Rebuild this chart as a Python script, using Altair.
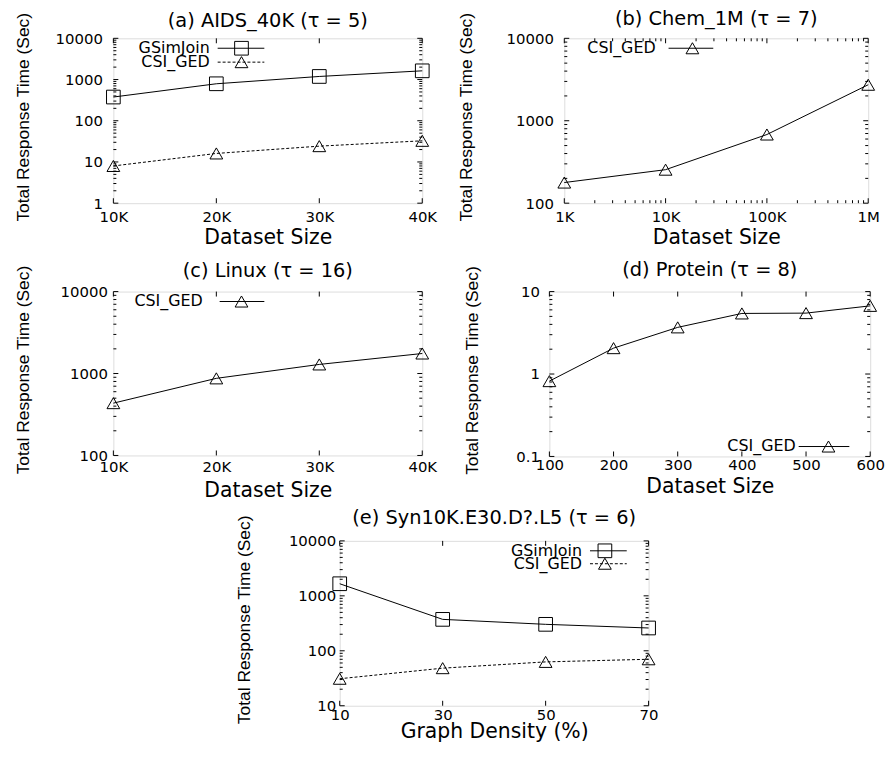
import json
import altair as alt
import pandas as pd

FONT = "DejaVu Sans"
YFONT = "Liberation Sans"

# ---------------- data ----------------
a_size = [10000, 20000, 30000, 40000]
a_gsim = [376, 789, 1187, 1627]
a_csi = [8.0, 16.1, 24.2, 32.6]
a_xticks = [10000, 20000, 30000, 40000]
a_xlabels = ["10K", "20K", "30K", "40K"]

b_size = [1000, 10000, 100000, 1000000]
b_csi = [178, 255, 681, 2733]
b_xticks = [1000, 10000, 100000, 1000000]
b_xlabels = ["1K", "10K", "100K", "1M"]

c_size = [10000, 20000, 30000, 40000]
c_csi = [435, 873, 1291, 1755]
c_xticks = [10000, 20000, 30000, 40000]
c_xlabels = ["10K", "20K", "30K", "40K"]

d_size = [100, 200, 300, 400, 500, 600]
d_csi = [0.82, 2.06, 3.68, 5.43, 5.48, 6.71]
d_xticks = [100, 200, 300, 400, 500, 600]
d_xlabels = ["100", "200", "300", "400", "500", "600"]

e_density = [10, 30, 50, 70]
e_gsim = [1660, 373, 303, 260]
e_csi = [31.0, 48.3, 62.8, 70.1]
e_xticks = [10, 30, 50, 70]
e_xlabels = ["10", "30", "50", "70"]

MAJOR = 5
MINOR = 3


def decades(lo_exp, hi_exp):
    return [10.0 ** k for k in range(lo_exp, hi_exp + 1)]


def minors(lo_exp, hi_exp):
    out = []
    for k in range(lo_exp, hi_exp):
        for m in range(2, 10):
            out.append(m * 10.0 ** k)
    return out


def ylabel(v):
    return ("%g" % v)


def lookup_expr(ticks, labels):
    return "%s[indexof(%s, datum.value)]" % (json.dumps(labels), json.dumps(ticks))


def panel(cfg):
    w, h = cfg["w"], cfg["h"]
    xs = alt.Scale(type=cfg["xtype"], domain=cfg["xdom"], nice=False, zero=False)
    ys = alt.Scale(type="log", domain=cfg["ydom"], nice=False)
    yt = cfg["yticks"]
    xaxis = alt.Axis(
        values=cfg["xticks"], labelExpr=lookup_expr(cfg["xticks"], cfg["xlabels"]),
        title=cfg["xtitle"], grid=False, ticks=False, tickSize=0, domain=False,
        labelFont=FONT, labelFontSize=15, labelColor="black",
        labelPadding=cfg["xlabpad"], labelBaseline="alphabetic", labelFlush=False,
        labelOverlap=False, labelAlign="center",
        titleFont=FONT, titleFontSize=20.5, titleFontWeight="normal", titleColor="black",
        titleY=cfg["xtitley"], titleBaseline="alphabetic",
    )
    yaxis = alt.Axis(
        values=yt, labelExpr=lookup_expr(yt, [ylabel(v) for v in yt]),
        title="Total Response Time (Sec)", grid=False, ticks=False, tickSize=0, domain=False,
        labelFont=FONT, labelFontSize=15, labelColor="black",
        labelPadding=cfg["ylabpad"], labelOverlap=False, labelFlush=False,
        labelBaseline="middle",
        titleFont=YFONT, titleFontSize=17.5, titleFontWeight="normal", titleColor="black",
        titleAngle=270, titleX=cfg["ytitlex"], titleY=h / 2 - 4,
        titleBaseline="middle", titleAlign="center",
    )
    X = lambda: alt.X("x:Q", scale=xs, axis=xaxis)
    Y = lambda: alt.Y("y:Q", scale=ys, axis=yaxis)

    lines, points = [], []
    for name, vals, shape, size, dash in cfg["series"]:
        df = pd.DataFrame({"x": cfg["x"], "y": vals, "series": name})
        lk = dict(color="black", strokeWidth=1)
        if dash:
            lk["strokeDash"] = dash
        lines.append(alt.Chart(df).mark_line(**lk).encode(x=X(), y=Y()))
        points.append(
            alt.Chart(df).mark_point(shape=shape, size=size, filled=False, color="black",
                                     strokeWidth=1, opacity=1).encode(x=X(), y=Y())
        )

    ticks = []
    ymaj = pd.DataFrame({"y": yt})
    ymin = pd.DataFrame({"y": cfg["yminor"]})
    for d, L in ((ymaj, MAJOR), (ymin, MINOR)):
        ticks.append(alt.Chart(d).mark_rule(color="black", strokeWidth=1).encode(
            y=Y(), x=alt.value(0), x2=alt.value(L)))
        ticks.append(alt.Chart(d).mark_rule(color="black", strokeWidth=1).encode(
            y=Y(), x=alt.value(w - L), x2=alt.value(w)))
    xsets = [(pd.DataFrame({"x": cfg["xticks"]}), MAJOR)]
    if cfg.get("xminor"):
        xsets.append((pd.DataFrame({"x": cfg["xminor"]}), MINOR))
    for d, L in xsets:
        ticks.append(alt.Chart(d).mark_rule(color="black", strokeWidth=1).encode(
            x=X(), y=alt.value(h - L), y2=alt.value(h)))
        ticks.append(alt.Chart(d).mark_rule(color="black", strokeWidth=1).encode(
            x=X(), y=alt.value(0), y2=alt.value(L)))

    legend = []
    lg = cfg["legend"]
    for i, (name, vals, shape, size, dash) in enumerate(cfg["series"]):
        ly = lg["y"][i]
        d = pd.DataFrame({"label": [name]})
        legend.append(alt.Chart(d).mark_text(align="right", baseline="middle", font=FONT,
                                             fontSize=16, color="black").encode(
            x=alt.value(lg["tx"]), y=alt.value(ly), text="label:N"))
        rk = dict(color="black", strokeWidth=1)
        if dash:
            rk["strokeDash"] = dash
        legend.append(alt.Chart(d).mark_rule(**rk).encode(
            x=alt.value(lg["l1"]), x2=alt.value(lg["l2"]), y=alt.value(ly)))
        legend.append(alt.Chart(d).mark_point(shape=shape, size=size, filled=False, color="black",
                                              strokeWidth=1, opacity=1).encode(
            x=alt.value(lg["m"]), y=alt.value(ly)))

    tdf = pd.DataFrame({"t": [cfg["title"]]})
    title = alt.Chart(tdf).mark_text(align="center", baseline="alphabetic", font=FONT,
                                     fontSize=19.5, color="black").encode(
        x=alt.value(w / 2), y=alt.value(-cfg["toff"]), text="t:N")

    return alt.layer(*ticks, *lines, *points, *legend, title).properties(width=w, height=h)


SQ = ("square", 190)
TR = ("triangle-up", 165)
DASH = [3, 2]

pa = panel(dict(
    title="(a) AIDS_40K (\u03c4 = 5)", w=311, h=166, xtype="linear", xdom=[10000, 40000],
    ydom=[1, 10000], yticks=decades(0, 4), yminor=minors(0, 4),
    x=a_size, xticks=a_xticks, xlabels=a_xlabels, xtitle="Dataset Size",
    xlabpad=18, xtitley=41, ylabpad=11, ytitlex=-90, toff=11,
    series=[("GSimJoin", a_gsim, SQ[0], SQ[1], None), ("CSI_GED", a_csi, TR[0], TR[1], DASH)],
    legend=dict(tx=97, l1=105, l2=152, m=129, y=[10, 24]),
))
pb = panel(dict(
    title="(b) Chem_1M (\u03c4 = 7)", w=306, h=166, xtype="log", xdom=[1000, 1000000],
    ydom=[100, 10000], yticks=decades(2, 4), yminor=minors(2, 4),
    x=b_size, xticks=b_xticks, xlabels=b_xlabels, xtitle="Dataset Size", xminor=minors(3, 6),
    xlabpad=18, xtitley=41, ylabpad=11, ytitlex=-98, toff=13,
    series=[("CSI_GED", b_csi, TR[0], TR[1], None)],
    legend=dict(tx=92, l1=105, l2=150, m=129, y=[10]),
))
pc = panel(dict(
    title="(c) Linux (\u03c4 = 16)", w=311, h=165, xtype="linear", xdom=[10000, 40000],
    ydom=[100, 10000], yticks=decades(2, 4), yminor=minors(2, 4),
    x=c_size, xticks=c_xticks, xlabels=c_xlabels, xtitle="Dataset Size",
    xlabpad=16, xtitley=41, ylabpad=6, ytitlex=-90, toff=15,
    series=[("CSI_GED", c_csi, TR[0], TR[1], None)],
    legend=dict(tx=90, l1=107, l2=152, m=129, y=[10]),
))
pd_ = panel(dict(
    title="(d) Protein (\u03c4 = 8)", w=323, h=166, xtype="linear", xdom=[100, 600],
    ydom=[0.1, 10], yticks=decades(-1, 1), yminor=minors(-1, 1),
    x=d_size, xticks=d_xticks, xlabels=d_xlabels, xtitle="Dataset Size",
    xlabpad=13, xtitley=36, ylabpad=10, ytitlex=-77, toff=16,
    series=[("CSI_GED", d_csi, TR[0], TR[1], None)],
    legend=dict(tx=248, l1=251, l2=302, m=281, y=[156]),
))
pe = panel(dict(
    title="(e) Syn10K.E30.D?.L5 (\u03c4 = 6)", w=311, h=166, xtype="linear", xdom=[10, 70],
    ydom=[10, 10000], yticks=decades(1, 4), yminor=minors(1, 4),
    x=e_density, xticks=e_xticks, xlabels=e_xlabels, xtitle="Graph Density (%)",
    xlabpad=14, xtitley=32, ylabpad=4, ytitlex=-96, toff=17,
    series=[("GSimJoin", e_gsim, SQ[0], SQ[1], None), ("CSI_GED", e_csi, TR[0], TR[1], DASH)],
    legend=dict(tx=244, l1=252, l2=289, m=267, y=[10, 23]),
))

row1 = alt.hconcat(pa, pb, spacing=20)
row2 = alt.hconcat(pc, pd_, spacing=26)
top = alt.vconcat(row1, row2, spacing=10)
chart = alt.vconcat(top, pe, spacing=6, center=True).properties(
    padding={"left": 6, "top": -2, "right": 0, "bottom": 0}
).configure_view(stroke="black", strokeWidth=1).configure(background="white")

chart.save("out.html", embed_options={"renderer": "svg", "actions": False})
